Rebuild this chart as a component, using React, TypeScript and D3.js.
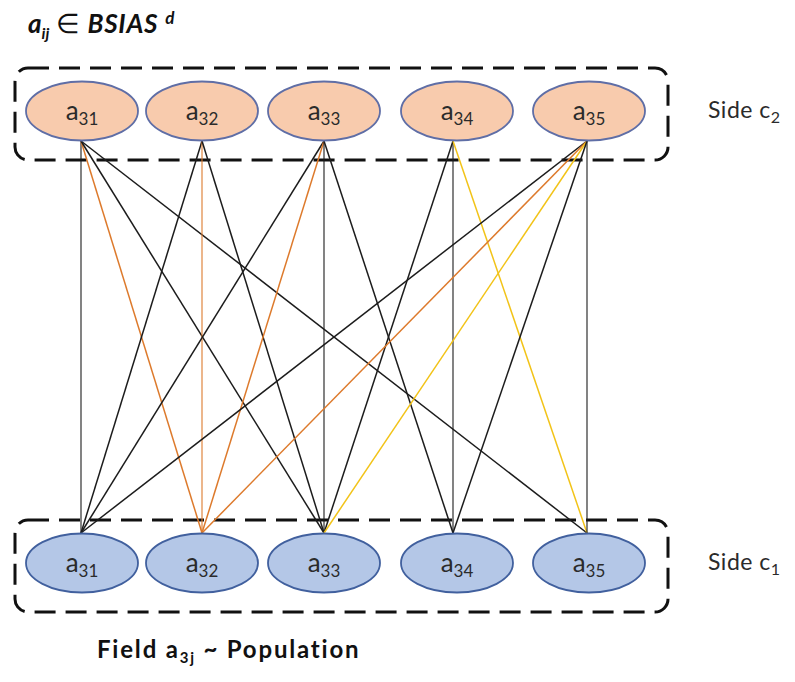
import React from "react";
import * as d3 from "d3";

const nodes = ["31", "32", "33", "34", "35"];
const sides = [
  { key: "top", label: "2" },
  { key: "bottom", label: "1" },
];
// edges: [top node, bottom node, colour kind]
const edges: [string, string, string][] = [
  ["31", "31", "black"],
  ["31", "32", "orange"],
  ["31", "33", "black"],
  ["31", "35", "black"],
  ["32", "31", "black"],
  ["32", "32", "orange"],
  ["32", "33", "black"],
  ["33", "31", "black"],
  ["33", "32", "orange"],
  ["33", "33", "black"],
  ["33", "34", "black"],
  ["34", "33", "black"],
  ["34", "34", "black"],
  ["34", "35", "yellow"],
  ["35", "31", "black"],
  ["35", "32", "orange"],
  ["35", "33", "yellow"],
  ["35", "34", "black"],
  ["35", "35", "black"],
];

const W = 795;
const H = 682;
const FONT = "Lato, 'Open Sans', sans-serif";

export default function App() {
  const cx = d3.scaleOrdinal<string, number>().domain(nodes).range([82, 202, 324, 457, 589]);
  const ax = d3.scaleOrdinal<string, number>().domain(nodes).range([81, 202, 324, 453, 587]);
  const rowY = d3.scaleOrdinal<string, number>().domain(["top", "bottom"]).range([111, 563]);
  const color = d3
    .scaleOrdinal<string, string>()
    .domain(["black", "orange", "yellow"])
    .range(["#1c1c1c", "#dd7a2c", "#f2c318"]);
  const rx = 56;
  const ry = 29.5;
  const topAnchorY = 141;
  const botAnchorY = 533;

  return (
    <svg
      width={W}
      height={H}
      viewBox={`0 0 ${W} ${H}`}
      style={{ position: "absolute", left: 0, top: 0, background: "#fff" }}
    >
      {/* dashed group boxes */}
      {sides.map((s) => (
        <rect
          key={s.key}
          x={15}
          y={rowY(s.key) - 43}
          width={653}
          height={92}
          rx={13}
          ry={13}
          fill="none"
          stroke="#111"
          strokeWidth={3}
          strokeDasharray="21 10"
        />
      ))}
      {/* edges */}
      {edges.map(([a, b, c], i) => {
        const vertical = a === b;
        return (
          <line
            key={i}
            x1={ax(a)}
            y1={topAnchorY}
            x2={ax(b)}
            y2={botAnchorY}
            stroke={color(c)}
            strokeWidth={vertical ? 1.1 : 1.5}
          />
        );
      })}
      {/* nodes */}
      {sides.map((s) =>
        nodes.map((n) => (
          <g key={s.key + n}>
            <ellipse
              cx={cx(n)}
              cy={rowY(s.key)}
              rx={rx}
              ry={ry}
              fill={s.key === "top" ? "#f8cbad" : "#b4c7e7"}
              stroke={s.key === "top" ? "#5f6ea6" : "#41609e"}
              strokeWidth={1.8}
            />
            <text
              x={cx(n)}
              y={rowY(s.key) + 9}
              textAnchor="middle"
              fontFamily={FONT}
              fill="#2b2b2b"
            >
              <tspan fontSize={26}>a</tspan>
              <tspan fontSize={17} dy={5}>
                {n}
              </tspan>
            </text>
          </g>
        ))
      )}
      {/* side labels */}
      {sides.map((s) => (
        <text key={"l" + s.key} x={708} y={rowY(s.key) + 7} fontFamily={FONT} fill="#2b2b2b">
          <tspan fontSize={23} letterSpacing={0.5}>Side c</tspan>
          <tspan fontSize={16} dy={5}>
            {s.label}
          </tspan>
        </text>
      ))}
      {/* title */}
      <text x={28} y={33} fontFamily={FONT} fill="#111">
        <tspan fontSize={26} fontWeight="bold" fontStyle="italic">a</tspan>
        <tspan fontSize={16} fontWeight="bold" fontStyle="italic" dy={6}>ij</tspan>
        <tspan fontSize={27} dy={-6} dx={7}>∈</tspan>
        <tspan fontSize={26} fontWeight="bold" fontStyle="italic" dx={7} letterSpacing={0.8}>BSIAS</tspan>
        <tspan fontSize={17} fontWeight="bold" fontStyle="italic" dy={-9} dx={7}>d</tspan>
      </text>
      {/* bottom caption */}
      <text x={97} y={658} fontFamily={FONT} fill="#111" fontWeight="bold" letterSpacing={1.8}>
        <tspan fontSize={24}>Field a</tspan>
        <tspan fontSize={15} dy={5}>3j</tspan>
        <tspan fontSize={24} dy={-5}> ~ Population</tspan>
      </text>
    </svg>
  );
}
